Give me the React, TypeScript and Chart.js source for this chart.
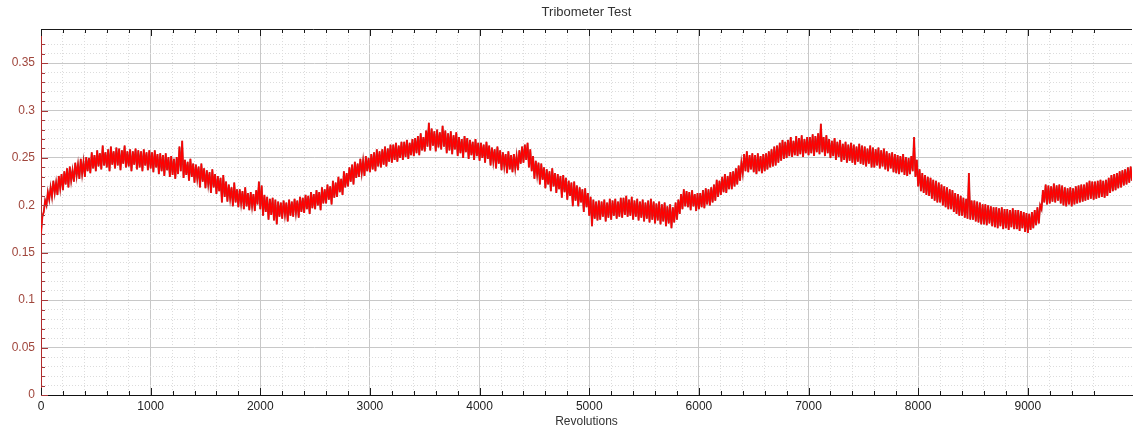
import { useEffect, useRef } from "react";
import { Chart, registerables } from "chart.js";

Chart.register(...registerables);

// Friction coefficient envelope: for every 25-revolution bin, the low and the
// high reading (lo, hi pairs), grouped per 1000 revolutions.
const binWidth = 25;
const friction0k = [
  0.170, 0.188, 0.193, 0.205, 0.200, 0.214, 0.206, 0.219,
  0.209, 0.226, 0.213, 0.224, 0.211, 0.231, 0.218, 0.233,
  0.216, 0.236, 0.222, 0.239, 0.219, 0.241, 0.226, 0.237,
  0.225, 0.245, 0.231, 0.243, 0.228, 0.249, 0.233, 0.246,
  0.230, 0.251, 0.236, 0.250, 0.234, 0.256, 0.239, 0.253,
  0.236, 0.258, 0.241, 0.255, 0.238, 0.263, 0.242, 0.256,
  0.240, 0.259, 0.236, 0.262, 0.243, 0.257, 0.239, 0.261,
  0.242, 0.260, 0.237, 0.258, 0.244, 0.263, 0.240, 0.257,
  0.241, 0.259, 0.236, 0.257, 0.243, 0.260, 0.238, 0.258,
  0.240, 0.257, 0.236, 0.259, 0.242, 0.256, 0.237, 0.258,
];
const friction1k = [
  0.239, 0.256, 0.235, 0.258, 0.240, 0.254, 0.233, 0.255,
  0.236, 0.253, 0.231, 0.255, 0.237, 0.251, 0.230, 0.252,
  0.232, 0.249, 0.228, 0.251, 0.233, 0.262, 0.236, 0.268,
  0.229, 0.248, 0.232, 0.246, 0.226, 0.249, 0.230, 0.244,
  0.224, 0.243, 0.228, 0.241, 0.219, 0.244, 0.225, 0.239,
  0.218, 0.237, 0.222, 0.235, 0.213, 0.238, 0.219, 0.233,
  0.212, 0.231, 0.215, 0.229, 0.203, 0.232, 0.209, 0.225,
  0.204, 0.222, 0.207, 0.219, 0.199, 0.224, 0.203, 0.217,
  0.198, 0.217, 0.202, 0.215, 0.196, 0.219, 0.199, 0.213,
  0.195, 0.214, 0.199, 0.212, 0.194, 0.216, 0.201, 0.225,
];
const friction2k = [
  0.196, 0.221, 0.189, 0.211, 0.193, 0.209, 0.185, 0.207,
  0.190, 0.208, 0.184, 0.206, 0.180, 0.204, 0.188, 0.203,
  0.186, 0.205, 0.190, 0.203, 0.183, 0.206, 0.189, 0.204,
  0.188, 0.207, 0.192, 0.205, 0.187, 0.209, 0.193, 0.208,
  0.192, 0.211, 0.196, 0.210, 0.191, 0.214, 0.197, 0.212,
  0.196, 0.216, 0.200, 0.214, 0.195, 0.219, 0.202, 0.217,
  0.202, 0.222, 0.206, 0.220, 0.201, 0.226, 0.208, 0.224,
  0.209, 0.230, 0.214, 0.228, 0.211, 0.236, 0.219, 0.234,
  0.220, 0.240, 0.225, 0.243, 0.222, 0.246, 0.229, 0.244,
  0.230, 0.249, 0.234, 0.247, 0.231, 0.252, 0.236, 0.250,
];
const friction3k = [
  0.235, 0.254, 0.238, 0.256, 0.236, 0.259, 0.241, 0.257,
  0.240, 0.259, 0.243, 0.262, 0.241, 0.260, 0.246, 0.264,
  0.245, 0.264, 0.248, 0.266, 0.246, 0.263, 0.250, 0.267,
  0.248, 0.267, 0.251, 0.269, 0.249, 0.266, 0.253, 0.270,
  0.252, 0.271, 0.255, 0.273, 0.253, 0.276, 0.258, 0.272,
  0.257, 0.279, 0.262, 0.287, 0.258, 0.281, 0.263, 0.278,
  0.257, 0.280, 0.261, 0.277, 0.259, 0.284, 0.262, 0.279,
  0.255, 0.276, 0.258, 0.278, 0.254, 0.274, 0.259, 0.277,
  0.252, 0.272, 0.255, 0.270, 0.250, 0.273, 0.256, 0.271,
  0.249, 0.269, 0.253, 0.267, 0.248, 0.270, 0.252, 0.266,
];
const friction4k = [
  0.247, 0.266, 0.250, 0.264, 0.245, 0.267, 0.249, 0.263,
  0.242, 0.261, 0.246, 0.259, 0.239, 0.262, 0.244, 0.258,
  0.237, 0.256, 0.241, 0.254, 0.234, 0.257, 0.238, 0.253,
  0.235, 0.254, 0.239, 0.252, 0.237, 0.258, 0.244, 0.262,
  0.245, 0.264, 0.248, 0.266, 0.240, 0.259, 0.236, 0.252,
  0.228, 0.247, 0.232, 0.245, 0.222, 0.244, 0.227, 0.240,
  0.218, 0.238, 0.222, 0.236, 0.215, 0.239, 0.220, 0.234,
  0.213, 0.233, 0.217, 0.231, 0.208, 0.232, 0.214, 0.229,
  0.206, 0.226, 0.210, 0.224, 0.199, 0.225, 0.205, 0.221,
  0.199, 0.219, 0.203, 0.217, 0.193, 0.218, 0.198, 0.213,
];
const friction5k = [
  0.189, 0.209, 0.178, 0.206, 0.186, 0.204, 0.184, 0.205,
  0.185, 0.204, 0.188, 0.206, 0.183, 0.203, 0.187, 0.207,
  0.185, 0.205, 0.189, 0.207, 0.186, 0.204, 0.188, 0.208,
  0.187, 0.208, 0.190, 0.210, 0.188, 0.206, 0.189, 0.209,
  0.185, 0.205, 0.188, 0.207, 0.184, 0.204, 0.187, 0.206,
  0.183, 0.203, 0.186, 0.205, 0.182, 0.207, 0.185, 0.204,
  0.181, 0.202, 0.184, 0.204, 0.180, 0.201, 0.183, 0.203,
  0.178, 0.199, 0.181, 0.201, 0.176, 0.198, 0.182, 0.203,
  0.185, 0.206, 0.191, 0.212, 0.196, 0.217, 0.199, 0.215,
  0.198, 0.214, 0.195, 0.216, 0.199, 0.212, 0.194, 0.213,
];
const friction6k = [
  0.196, 0.213, 0.198, 0.216, 0.197, 0.218, 0.201, 0.217,
  0.200, 0.219, 0.203, 0.222, 0.205, 0.227, 0.209, 0.226,
  0.211, 0.230, 0.214, 0.233, 0.213, 0.231, 0.217, 0.235,
  0.217, 0.236, 0.220, 0.239, 0.222, 0.242, 0.226, 0.245,
  0.234, 0.254, 0.236, 0.257, 0.235, 0.253, 0.238, 0.255,
  0.235, 0.253, 0.233, 0.255, 0.236, 0.252, 0.234, 0.254,
  0.236, 0.255, 0.238, 0.257, 0.240, 0.259, 0.241, 0.262,
  0.242, 0.263, 0.245, 0.266, 0.247, 0.269, 0.249, 0.267,
  0.250, 0.269, 0.252, 0.272, 0.251, 0.268, 0.253, 0.273,
  0.252, 0.271, 0.254, 0.274, 0.251, 0.270, 0.255, 0.272,
];
const friction7k = [
  0.253, 0.272, 0.255, 0.275, 0.252, 0.273, 0.256, 0.276,
  0.254, 0.286, 0.256, 0.272, 0.252, 0.274, 0.255, 0.270,
  0.250, 0.268, 0.252, 0.271, 0.248, 0.267, 0.251, 0.269,
  0.246, 0.265, 0.248, 0.267, 0.245, 0.264, 0.247, 0.266,
  0.245, 0.264, 0.243, 0.262, 0.246, 0.265, 0.244, 0.263,
  0.243, 0.262, 0.241, 0.260, 0.244, 0.263, 0.240, 0.261,
  0.240, 0.259, 0.242, 0.261, 0.239, 0.258, 0.241, 0.260,
  0.238, 0.257, 0.236, 0.255, 0.239, 0.256, 0.235, 0.254,
  0.234, 0.253, 0.233, 0.252, 0.235, 0.254, 0.232, 0.251,
  0.231, 0.250, 0.233, 0.252, 0.236, 0.272, 0.230, 0.248,
];
const friction8k = [
  0.220, 0.238, 0.215, 0.234, 0.213, 0.232, 0.211, 0.230,
  0.210, 0.229, 0.207, 0.227, 0.205, 0.226, 0.203, 0.224,
  0.203, 0.222, 0.200, 0.220, 0.198, 0.219, 0.196, 0.217,
  0.196, 0.216, 0.193, 0.213, 0.191, 0.212, 0.189, 0.210,
  0.189, 0.208, 0.187, 0.207, 0.186, 0.234, 0.185, 0.205,
  0.185, 0.205, 0.183, 0.204, 0.182, 0.203, 0.180, 0.201,
  0.180, 0.201, 0.179, 0.200, 0.181, 0.199, 0.178, 0.198,
  0.177, 0.198, 0.176, 0.197, 0.178, 0.198, 0.175, 0.196,
  0.176, 0.196, 0.174, 0.195, 0.177, 0.197, 0.175, 0.195,
  0.175, 0.195, 0.173, 0.194, 0.176, 0.193, 0.172, 0.192,
];
const friction9k = [
  0.171, 0.191, 0.174, 0.193, 0.176, 0.195, 0.179, 0.198,
  0.181, 0.200, 0.196, 0.216, 0.203, 0.222, 0.201, 0.221,
  0.202, 0.220, 0.204, 0.223, 0.203, 0.221, 0.205, 0.222,
  0.202, 0.221, 0.200, 0.219, 0.199, 0.218, 0.201, 0.219,
  0.199, 0.218, 0.201, 0.220, 0.202, 0.221, 0.203, 0.222,
  0.204, 0.222, 0.205, 0.224, 0.206, 0.226, 0.207, 0.225,
  0.206, 0.225, 0.207, 0.226, 0.208, 0.227, 0.209, 0.226,
  0.208, 0.227, 0.210, 0.229, 0.213, 0.232, 0.215, 0.233,
  0.216, 0.234, 0.218, 0.236, 0.219, 0.237, 0.221, 0.238,
  0.222, 0.240, 0.224, 0.241, 0.226, 0.255,
];

const frictionEnvelope = [
  ...friction0k, ...friction1k, ...friction2k, ...friction3k, ...friction4k,
  ...friction5k, ...friction6k, ...friction7k, ...friction8k, ...friction9k,
];

// Axis ranges and labelled ticks.
const xRange = [0, 9950];
const yRange = [0, 0.386];
const xMinorStep = 200;
const yMinorStep = 0.01;
const xTickLabels = [0, 1000, 2000, 3000, 4000, 5000, 6000, 7000, 8000, 9000];
const yTickLabels = [0, 0.05, 0.1, 0.15, 0.2, 0.25, 0.3, 0.35];

const FONT = "'Liberation Sans', Arial, sans-serif";

const isLabelled = (v: number, list: number[]) =>
  list.some((t) => Math.abs(t - v) < 1e-6);

const isOnStep = (v: number, step: number) =>
  Math.abs(v / step - Math.round(v / step)) < 1e-6;

// Short tick marks pointing into the plot, on the left, bottom and top edges.
const insideTicks = {
  id: "insideTicks",
  afterDraw(chart: any) {
    const { ctx, chartArea: a, scales } = chart;
    const x = scales.x;
    const y = scales.y;
    ctx.save();
    ctx.lineWidth = 1;

    ctx.strokeStyle = "#1a1a1a";
    ctx.beginPath();
    ctx.moveTo(a.left, a.top + 0.5);
    ctx.lineTo(a.right, a.top + 0.5);
    ctx.stroke();

    ctx.beginPath();
    for (const t of x.ticks) {
      if (!isOnStep(t.value, xMinorStep)) continue;
      const px = Math.round(x.getPixelForValue(t.value)) + 0.5;
      const len = isLabelled(t.value, xTickLabels) ? 7 : 4;
      ctx.moveTo(px, a.bottom);
      ctx.lineTo(px, a.bottom - len);
      ctx.moveTo(px, a.top);
      ctx.lineTo(px, a.top + len);
    }
    ctx.stroke();

    ctx.strokeStyle = "#a8383a";
    ctx.beginPath();
    for (const t of y.ticks) {
      if (!isOnStep(t.value, yMinorStep)) continue;
      const py = Math.round(y.getPixelForValue(t.value)) + 0.5;
      const len = isLabelled(t.value, yTickLabels) ? 7 : 4;
      ctx.moveTo(a.left, py);
      ctx.lineTo(a.left + len, py);
    }
    ctx.stroke();
    ctx.restore();
  },
};

export default function App() {
  const canvasRef = useRef<HTMLCanvasElement | null>(null);

  useEffect(() => {
    if (!canvasRef.current) return;
    // lo readings sit at the start of each bin, hi readings half a bin later
    const points = frictionEnvelope.map((v, i) => ({
      x: Math.floor(i / 2) * binWidth + (i % 2) * (binWidth / 2),
      y: v,
    }));

    const chart = new Chart(canvasRef.current, {
      type: "line",
      data: {
        datasets: [
          {
            label: "Friction",
            data: points,
            borderColor: "#ff0000",
            borderWidth: 1.3,
            pointRadius: 0,
            tension: 0,
            fill: false,
            order: 0,
          },
          {
            label: "Friction edge",
            data: points,
            borderColor: "#a84040",
            borderWidth: 1.9,
            pointRadius: 0,
            tension: 0,
            fill: false,
            order: 1,
          },
        ],
      },
      plugins: [insideTicks],
      options: {
        animation: false,
        responsive: true,
        maintainAspectRatio: false,
        layout: { padding: 0 },
        plugins: {
          legend: { display: false },
          tooltip: { enabled: false },
          title: {
            display: true,
            text: "Tribometer Test",
            fullSize: false,
            color: "#333333",
            font: { family: FONT, size: 13, weight: "normal" },
            padding: { top: 5, bottom: 8.4 },
          },
        },
        scales: {
          x: {
            type: "linear",
            min: xRange[0],
            max: xRange[1],
            afterFit: (s: any) => {
              s.height = 36;
            },
            title: {
              display: true,
              text: "Revolutions",
              color: "#333333",
              font: { family: FONT, size: 12 },
              padding: { top: 0, bottom: 2 },
            },
            ticks: {
              stepSize: xMinorStep,
              autoSkip: false,
              maxRotation: 0,
              padding: 4,
              color: "#222222",
              font: { family: FONT, size: 12 },
              callback: (v: any) => (isLabelled(Number(v), xTickLabels) ? String(v) : ""),
            },
            grid: {
              drawTicks: false,
              color: (c: any) => {
                const v = c.tick ? c.tick.value : 0;
                if (!isOnStep(v, xMinorStep) || v === 0) return "rgba(0,0,0,0)";
                return isLabelled(v, xTickLabels) ? "#c8c8c8" : "#dcdcdc";
              },
            },
            border: {
              color: "#111111",
              width: 1,
              dash: (c: any) => {
                if (!c.tick) return [];
                return isLabelled(c.tick.value, xTickLabels) ? [] : [1, 2];
              },
            },
          },
          y: {
            type: "linear",
            min: yRange[0],
            max: yRange[1],
            afterFit: (s: any) => {
              s.width = 41;
            },
            ticks: {
              stepSize: yMinorStep,
              autoSkip: false,
              padding: 6,
              color: "#a0463c",
              font: { family: FONT, size: 12 },
              callback: (v: any) => {
                const n = Number(v);
                if (!isLabelled(n, yTickLabels)) return "";
                return String(Math.round(n * 100) / 100);
              },
            },
            grid: {
              drawTicks: false,
              color: (c: any) => {
                const v = c.tick ? c.tick.value : 0;
                if (!isOnStep(v, yMinorStep) || v === 0) return "rgba(0,0,0,0)";
                return isLabelled(v, yTickLabels) ? "#c8c8c8" : "#dcdcdc";
              },
            },
            border: {
              color: "#b22a2a",
              width: 1,
              dash: (c: any) => {
                if (!c.tick) return [];
                return isLabelled(c.tick.value, yTickLabels) ? [] : [1, 2];
              },
            },
          },
        },
      },
    });

    return () => chart.destroy();
  }, []);

  return (
    <div
      style={{
        position: "fixed",
        left: 0,
        top: 0,
        width: 1136,
        height: 431,
        background: "#ffffff",
      }}
    >
      <canvas ref={canvasRef} />
    </div>
  );
}
